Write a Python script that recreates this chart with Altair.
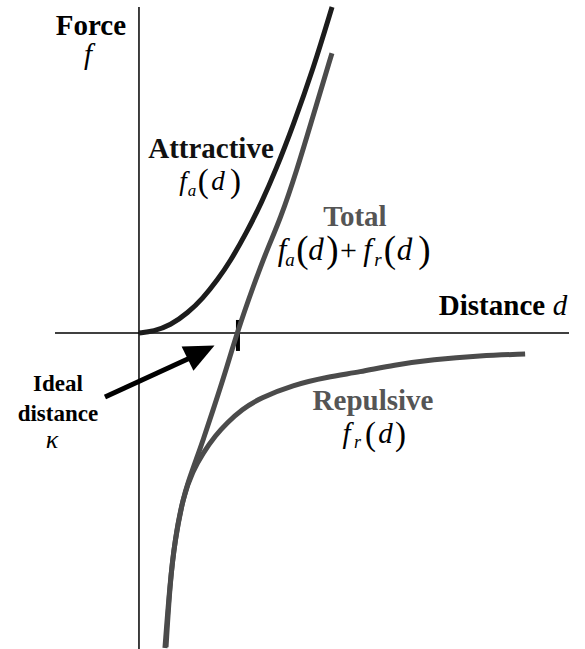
import altair as alt
import pandas as pd

# Distance d and force f, both measured in units of the ideal distance kappa
attr_d = [0.0, 0.15, 0.32, 0.5, 0.65, 0.8, 0.93, 1.1, 1.25, 1.4, 1.57, 1.78, 1.97]
attr_f = [0.0, 0.02, 0.09, 0.24, 0.41, 0.63, 0.85, 1.2, 1.55, 1.95, 2.46, 3.15, 3.88]

rep_d = [0.265, 0.316, 0.367, 0.449, 0.55, 0.653, 0.78, 0.898, 1.05, 1.235,
         1.571, 1.918, 2.255, 2.6, 3.0, 3.48, 3.94]
rep_f = [-3.75, -2.98, -2.46, -1.95, -1.64, -1.43, -1.22, -1.07, -0.91, -0.774,
         -0.619, -0.524, -0.464, -0.38, -0.315, -0.27, -0.25]

tot_d = [0.276, 0.316, 0.367, 0.449, 0.5, 0.592, 0.653, 0.755, 0.878, 1.0,
         1.163, 1.316, 1.439, 1.612, 1.765, 1.969]
tot_f = [-3.74, -2.98, -2.46, -1.98, -1.78, -1.48, -1.28, -0.92, -0.48, 0.0,
         0.548, 1.02, 1.345, 1.94, 2.54, 3.33]

ideal_distance = 1.0

X_DOMAIN = [-1.418, 4.551]
Y_DOMAIN = [-3.762, 3.964]
xs = alt.Scale(domain=X_DOMAIN, nice=False, zero=False)
ys = alt.Scale(domain=Y_DOMAIN, nice=False, zero=False)

SERIF = "Liberation Serif"

curves = pd.concat([
    pd.DataFrame({"d": rep_d, "f": rep_f, "series": "repulsive", "col": "#4b4b4b", "o": 0}),
    pd.DataFrame({"d": tot_d, "f": tot_f, "series": "total", "col": "#4b4b4b", "o": 1}),
    pd.DataFrame({"d": attr_d, "f": attr_f, "series": "attractive", "col": "#1c1c1c", "o": 2}),
], ignore_index=True)

# coordinate axes drawn as plain lines through the origin
axes_df = pd.DataFrame({
    "x0": [-0.857, 0.0], "x1": [4.388, 0.0],
    "y0": [0.0, 3.881], "y1": [0.0, -3.762],
})

axes = alt.Chart(axes_df).mark_rule(color="black", strokeWidth=1.5).encode(
    x=alt.X("x0:Q", scale=xs, axis=None), x2="x1:Q",
    y=alt.Y("y0:Q", scale=ys, axis=None), y2="y1:Q",
)

tick = alt.Chart(pd.DataFrame({"d": [ideal_distance + 0.01], "a": [0.155], "b": [-0.214]})).mark_rule(
    color="black", strokeWidth=4
).encode(
    x=alt.X("d:Q", scale=xs, axis=None),
    y=alt.Y("a:Q", scale=ys, axis=None), y2="b:Q",
)

lines = alt.Chart(curves).mark_line(strokeWidth=5, interpolate="basis").encode(
    x=alt.X("d:Q", scale=xs, axis=None),
    y=alt.Y("f:Q", scale=ys, axis=None),
    detail="series:N",
    color=alt.Color("col:N", scale=None),
    order="o:Q",
)

# arrow pointing at the ideal distance
arrow_df = pd.DataFrame({"x0": [-0.347], "y0": [-0.762], "x1": [0.52], "y1": [-0.297]})
shaft = alt.Chart(arrow_df).mark_rule(color="black", strokeWidth=5).encode(
    x=alt.X("x0:Q", scale=xs, axis=None), x2="x1:Q",
    y=alt.Y("y0:Q", scale=ys, axis=None), y2="y1:Q",
)
head = alt.Chart(pd.DataFrame({"x": [0.633], "y": [-0.226]})).mark_point(
    shape="M1,0L-1,-0.9L-1,0.9Z", filled=True, color="black", opacity=1,
    size=900, angle=334, strokeWidth=0,
).encode(
    x=alt.X("x:Q", scale=xs, axis=None),
    y=alt.Y("y:Q", scale=ys, axis=None),
)

# text pieces: label, x, baseline y, weight/style, font size, colour
labels = pd.DataFrame([
    ("Force", -0.490, 3.548, "bold", 29, "#000000"),
    ("Attractive", 0.735, 2.083, "bold", 29, "#111111"),
    ("Total", 2.204, 1.274, "bold", 29, "#555555"),
    ("Distance", 3.602, 0.214, "bold", 29, "#000000"),
    ("Repulsive", 2.388, -0.917, "bold", 29, "#555555"),
    ("Ideal", -0.827, -0.690, "bold", 23, "#000000"),
    ("distance", -0.827, -1.050, "bold", 23, "#000000"),
    ("f", -0.520, 3.202, "italic", 29, "#000000"),
    ("d", 4.296, 0.214, "italic", 29, "#000000"),
    ("κ", -0.888, -1.370, "italic", 26, "#000000"),
    ("f", 0.449, 1.702, "italic", 27, "#000000"),
    ("a", 0.541, 1.631, "italic", 17, "#000000"),
    ("d", 0.806, 1.702, "italic", 27, "#000000"),
    ("(", 0.656, 1.679, "normal", 33, "#000000"),
    (")", 0.985, 1.679, "normal", 33, "#000000"),
    ("f", 1.459, 0.869, "italic", 31, "#000000"),
    ("a", 1.541, 0.798, "italic", 19, "#000000"),
    ("d", 1.806, 0.869, "italic", 31, "#000000"),
    ("(", 1.668, 0.845, "normal", 37, "#000000"),
    (")", 1.974, 0.845, "normal", 37, "#000000"),
    ("+", 2.138, 0.869, "normal", 30, "#000000"),
    ("f", 2.332, 0.869, "italic", 31, "#000000"),
    ("r", 2.439, 0.798, "italic", 19, "#000000"),
    ("d", 2.709, 0.869, "italic", 31, "#000000"),
    ("(", 2.561, 0.845, "normal", 37, "#000000"),
    (")", 2.913, 0.845, "normal", 37, "#000000"),
    ("f", 2.117, -1.304, "italic", 29, "#000000"),
    ("r", 2.230, -1.375, "italic", 18, "#000000"),
    ("d", 2.515, -1.304, "italic", 29, "#000000"),
    ("(", 2.362, -1.335, "normal", 33, "#000000"),
    (")", 2.668, -1.335, "normal", 33, "#000000"),
], columns=["t", "x", "y", "style", "s", "c"])

text_layers = []
for (style, size, colour), grp in labels.groupby(["style", "s", "c"]):
    kw = {"font": SERIF, "fontSize": int(size), "align": "center",
          "baseline": "alphabetic", "color": colour}
    if style == "bold":
        kw["fontWeight"] = "bold"
    elif style == "italic":
        kw["fontStyle"] = "italic"
    text_layers.append(
        alt.Chart(grp.reset_index(drop=True)).mark_text(**kw).encode(
            x=alt.X("x:Q", scale=xs, axis=None),
            y=alt.Y("y:Q", scale=ys, axis=None),
            text="t:N",
        )
    )

chart = alt.layer(
    axes, tick, lines, shaft, head, *text_layers
).properties(
    width=585, height=649, padding=0,
    autosize=alt.AutoSizeParams(type="none"),
    background="white",
).configure_view(stroke=None)

chart.save("out.html", embed_options={"renderer": "svg", "actions": False})
